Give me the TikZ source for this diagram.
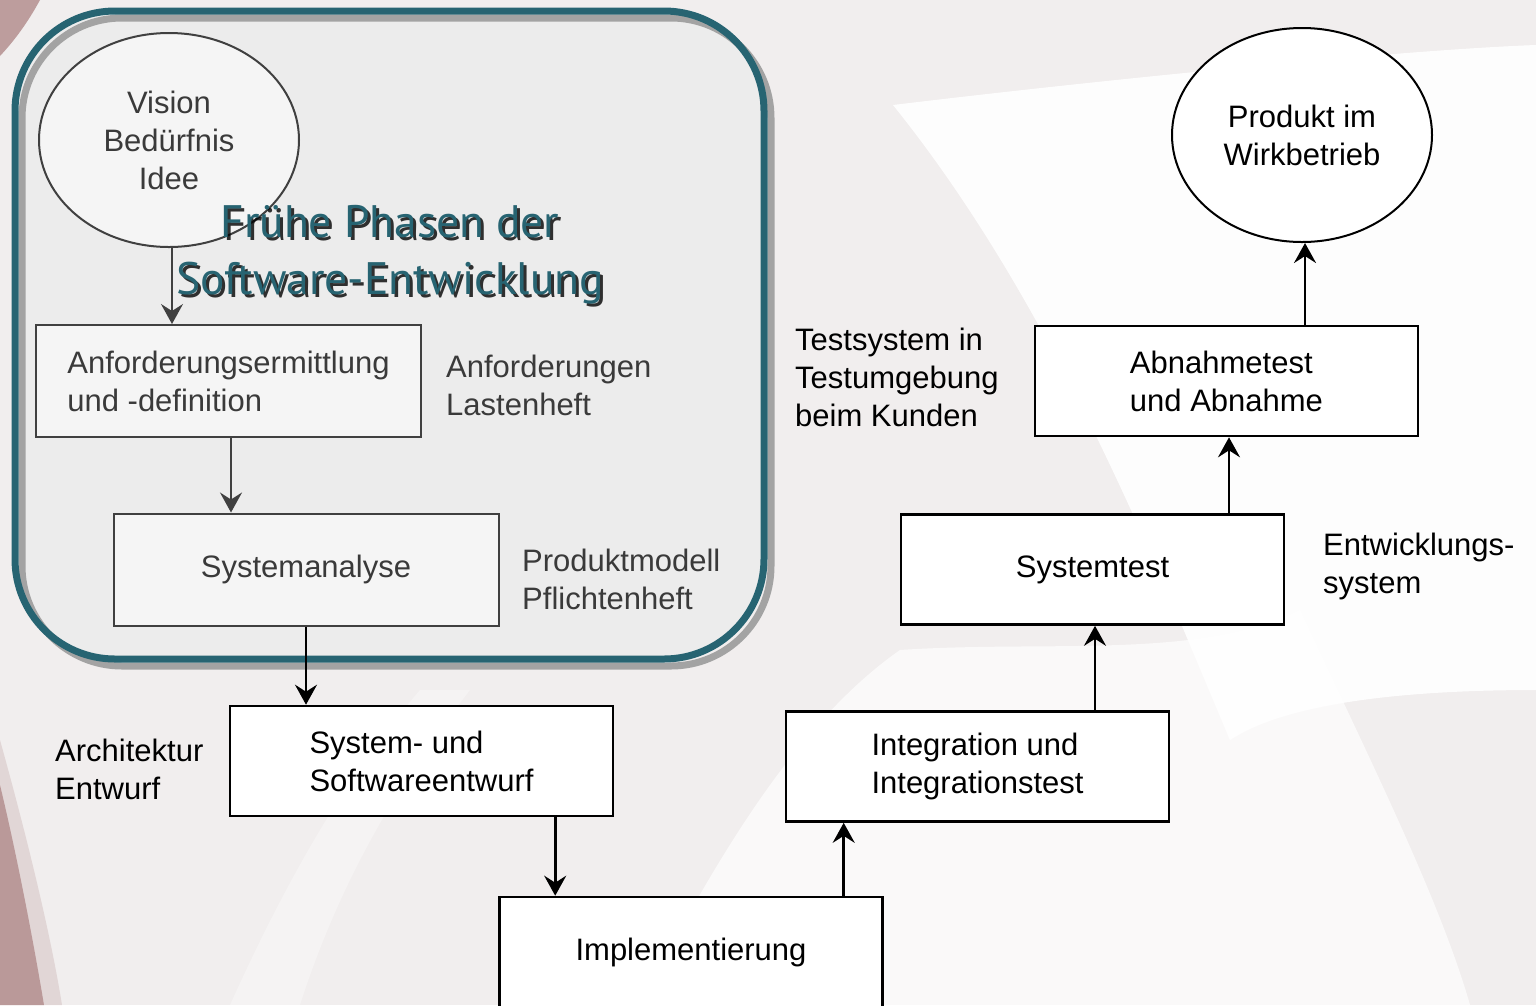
\documentclass[tikz,border=0pt]{standalone}
\usepackage{fontspec}
\setmainfont{Liberation Sans}
\newfontfamily\titlefont{PT Sans}
\usetikzlibrary{arrows.meta,shapes.geometric,calc}
\definecolor{bggray}{HTML}{F1EEEE}
\definecolor{redbg}{HTML}{B48F8F}
\definecolor{framefill}{HTML}{ECECEC}
\definecolor{frameteal}{HTML}{276472}
\definecolor{shadowgray}{HTML}{A3A3A3}
\definecolor{inline}{HTML}{404040}
\definecolor{intext}{HTML}{3A3A3A}
\definecolor{infill}{HTML}{F5F5F5}
\tikzset{
  txt/.style={font=\fontsize{31}{38}\selectfont, align=left, inner sep=0pt},
  lbl/.style={txt, anchor=west},
  inbox/.style={txt, draw=inline, fill=infill, text=intext, line width=2pt,
    minimum width=385pt, minimum height=112pt},
  outbox/.style={txt, draw=black, fill=white, line width=2.6pt,
    minimum width=383pt, minimum height=110pt},
  arr/.style={line width=2.6pt, -{Stealth[length=20pt,width=22pt,inset=7pt]}},
  garr/.style={line width=2pt, draw=inline, fill=inline, -{Stealth[length=20pt,width=22pt,inset=7pt]}},
  titletxt/.style={font=\titlefont\fontsize{45.5}{57}\selectfont, align=center, inner sep=0pt},
}
\begin{document}
\begin{tikzpicture}[x=1pt,y=-1pt]
\useasboundingbox (0,0) rectangle (1536,1005);
\clip (0,0) rectangle (1536,1005);
% background
\fill[bggray] (0,0) rectangle (1536,1005);
\fill[white, opacity=0.9] (893,105) .. controls (1100,80) and (1400,50) .. (1536,45) -- (1536,690)
  .. controls (1420,690) and (1290,700) .. (1230,740)
  .. controls (1150,550) and (1050,300) .. cycle;
\fill[white, opacity=0.7] (640,1005) .. controls (720,850) and (800,720) .. (900,650)
  .. controls (1050,640) and (1200,660) .. (1300,610)
  .. controls (1370,760) and (1440,900) .. (1470,1005) -- cycle;
\fill[white, opacity=0.3] (230,1005) .. controls (300,850) and (360,760) .. (420,690)
  -- (470,690) .. controls (400,780) and (340,880) .. (300,1005) -- cycle;
\fill[redbg, opacity=0.85] (0,0) -- (40,0) .. controls (28,22) and (15,40) .. (0,56) -- cycle;
\fill[redbg, opacity=0.85] (0,785) .. controls (18,860) and (34,945) .. (44,1005) -- (0,1005) -- cycle;
\fill[redbg, opacity=0.25] (0,740) .. controls (25,830) and (50,930) .. (62,1005) -- (0,1005) -- cycle;
% frame
\fill[framefill, rounded corners=100pt] (15,11) rectangle (764,659);
\draw[shadowgray, line width=7pt, rounded corners=100pt] (22,18) rectangle (771,666);
\draw[frameteal, line width=7pt, rounded corners=100pt] (15,11) rectangle (764,659);
% early phase nodes
\node[ellipse, draw=inline, fill=infill, line width=2pt, text=intext,
  minimum width=260pt, minimum height=214pt, txt, align=center] (vision) at (169,140)
  {Vision\\Bedürfnis\\Idee};
\node[inbox] (anf) at (228.5,381) {Anforderungsermittlung\\und -definition};
\node[inbox] (sysana) at (306,569.5) {Systemanalyse};
\node[lbl, text=intext] (lasten) at (446,385) {Anforderungen\\Lastenheft};
\node[lbl, text=intext] (pflicht) at (522,579) {Produktmodell\\Pflichtenheft};
% title
\node[titletxt, text=black, opacity=0.8] (titleshadow) at (393,258) {Frühe Phasen der\\Software-Entwicklung};
\node[titletxt, text=frameteal] (title) at (390,255) {Frühe Phasen der\\Software-Entwicklung};
% lower nodes
\node[outbox] (sysent) at (421.5,761) {System- und\\Softwareentwurf};
\node[outbox] (impl) at (691,952) {Implementierung};
\node[outbox] (integ) at (977.5,766.5) {Integration und\\Integrationstest};
\node[outbox] (systest) at (1092.5,569.5) {Systemtest};
\node[outbox] (abn) at (1226.5,381) {Abnahmetest\\und Abnahme};
\node[ellipse, draw=black, fill=white, line width=2pt, txt, align=center,
  minimum width=260pt, minimum height=214pt] (prod) at (1302,135) {Produkt im\\Wirkbetrieb};
\node[lbl] (archi) at (55,769) {Architektur\\Entwurf};
\node[lbl] (testsys) at (795,377) {Testsystem in\\Testumgebung\\beim Kunden};
\node[lbl] (entw) at (1323,566) {Entwicklungs-\\system};
% connectors
\draw[garr] ([xshift=3pt]vision.south) -- ([xshift=3pt]vision.south |- anf.north);
\draw[garr] ([xshift=2.5pt]anf.south) -- ([xshift=2.5pt]anf.south |- sysana.north);
\draw[arr] (sysana.south) -- (sysana.south |- sysent.north);
\draw[arr] ([xshift=57pt]impl.north west |- sysent.south) -- ([xshift=57pt]impl.north west);
\draw[arr] ([xshift=59pt]integ.south west |- impl.north) -- ([xshift=59pt]integ.south west);
\draw[arr] ([xshift=2.5pt]systest.south |- integ.north) -- ([xshift=2.5pt]systest.south);
\draw[arr] ([xshift=2.5pt]abn.south |- systest.north) -- ([xshift=2.5pt]abn.south);
\draw[arr] ([xshift=3pt]prod.south |- abn.north) -- ([xshift=3pt]prod.south);
\end{tikzpicture}
\end{document}
